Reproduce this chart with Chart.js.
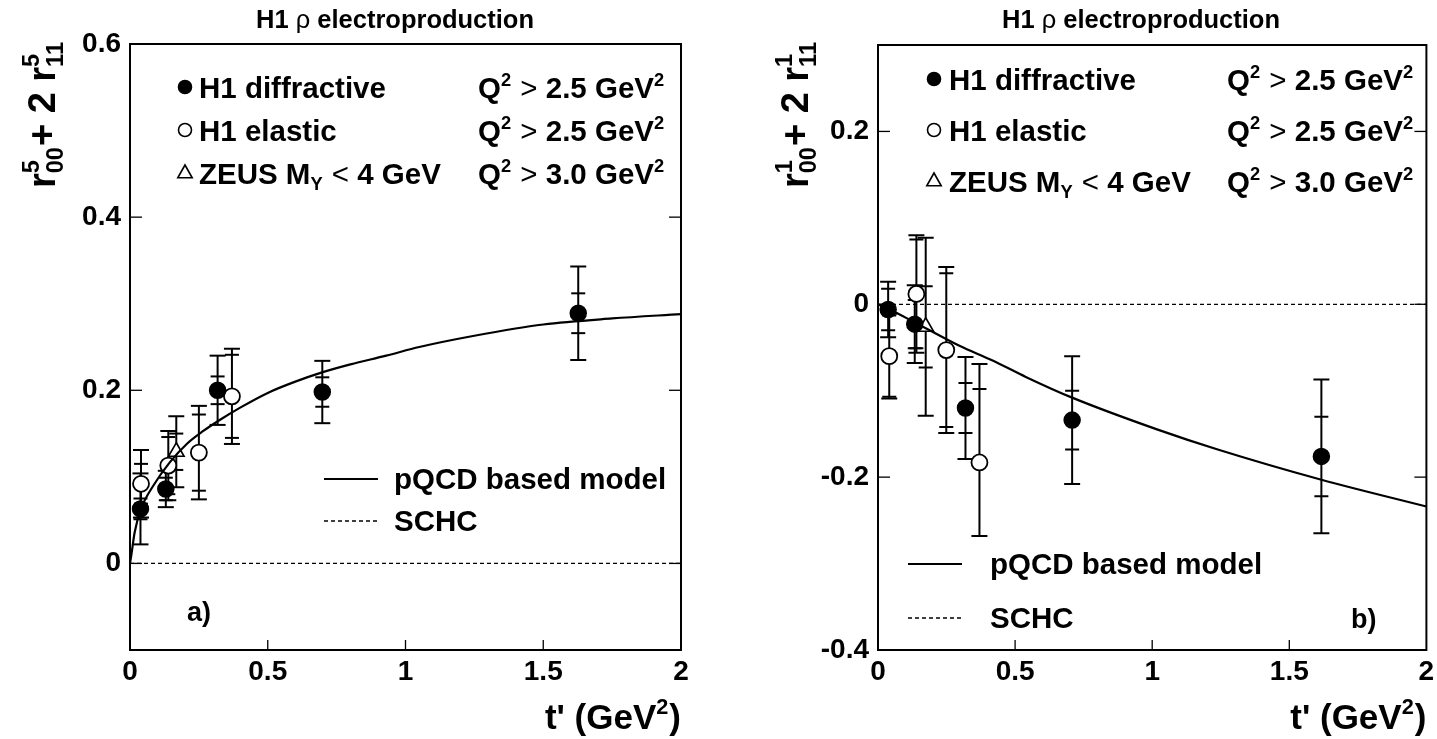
<!DOCTYPE html>
<html><head><meta charset="utf-8">
<script src="https://cdn.jsdelivr.net/npm/chart.js@4/dist/chart.umd.min.js"></script>
<style>
html,body{margin:0;padding:0;background:#fff;}
.wrap{position:absolute;top:0;}
canvas{display:block;}
</style>
</head><body>
<div class="wrap" style="left:0px;width:718px;height:739px"><canvas id="c1" width="718" height="739"></canvas></div>
<div class="wrap" style="left:718px;width:719px;height:739px"><canvas id="c2" width="719" height="739"></canvas></div>
<script>
// ---------------- data ----------------
const xTickVals = [0, 0.5, 1, 1.5, 2];
const yTickValsA = [0, 0.2, 0.4, 0.6];
const yTickValsB = [-0.4, -0.2, 0, 0.2];

// panel a) r^5_00 + 2 r^5_11
const aDiffT = [0.038, 0.130, 0.318, 0.698, 1.627];
const aDiffV = [0.063, 0.086, 0.200, 0.198, 0.289];
const aDiffStat = [0.012, 0.013, 0.016, 0.017, 0.023];
const aDiffTot = [0.041, 0.021, 0.040, 0.036, 0.054];

const aElT = [0.040, 0.139, 0.250, 0.370];
const aElV = [0.092, 0.113, 0.128, 0.193];
const aElStat = [0.023, 0.033, 0.044, 0.048];
const aElTot = [0.039, 0.040, 0.054, 0.055];

const aZeusT = [0.168];
const aZeusV = [0.129];
const aZeusStat = [0.021];
const aZeusTot = [0.041];

const aModelT = [0, 0.005, 0.017, 0.04, 0.085, 0.145, 0.206, 0.266, 0.327, 0.4, 0.5, 0.6, 0.7, 0.8, 0.93, 1.05, 1.25, 1.5, 1.75, 2.0];
const aModelV = [0, 0.010, 0.036, 0.063, 0.090, 0.117, 0.138, 0.153, 0.166, 0.180, 0.197, 0.210, 0.221, 0.230, 0.240, 0.250, 0.263, 0.276, 0.283, 0.288];

// panel b) r^1_00 + 2 r^1_11
const bDiffT = [0.037, 0.134, 0.319, 0.708, 1.617];
const bDiffV = [-0.006, -0.023, -0.120, -0.134, -0.176];
const bDiffStat = [0.024, 0.028, 0.029, 0.034, 0.046];
const bDiffTot = [0.032, 0.045, 0.059, 0.074, 0.089];

const bElT = [0.041, 0.140, 0.249, 0.370];
const bElV = [-0.060, 0.012, -0.053, -0.183];
const bElStat = [0.047, 0.063, 0.089, 0.085];
const bElTot = [0.049, 0.068, 0.096, [0.085, 0.114]];

const bZeusT = [0.174];
const bZeusV = [-0.026];
const bZeusStat = [0.047];
const bZeusTot = [0.103];

const bModelT = [0, 0.043, 0.134, 0.176, 0.297, 0.418, 0.539, 0.708, 1.02, 1.239, 1.617, 2.0];
const bModelV = [0, -0.006, -0.021, -0.028, -0.048, -0.065, -0.084, -0.108, -0.145, -0.168, -0.203, -0.234];

const schcT = [0, 2];
const schcV = [0, 0];

// ---------------- helpers ----------------
const FAM = '"Liberation Sans", Arial, Helvetica, sans-serif';
const pts = (t, v) => t.map((x, i) => ({x, y: v[i]}));

function fontStr(size, weight) { return `${weight} ${size}px ${FAM}`; }
function segWidth(ctx, seg, size) {
  if (typeof seg === 'string') { ctx.font = fontStr(size, 'bold'); return ctx.measureText(seg).width; }
  if (seg.light) { ctx.font = fontStr(size, 'normal'); return ctx.measureText(seg.light).width; }
  const s = size * 0.62; ctx.font = fontStr(s, 'bold');
  let w = 0;
  if (seg.sup) w = Math.max(w, ctx.measureText(seg.sup).width);
  if (seg.sub) w = Math.max(w, ctx.measureText(seg.sub).width);
  return w + 1;
}
function drawRich(ctx, x, y, parts, size, align) {
  let W = 0; parts.forEach(p => W += segWidth(ctx, p, size));
  let cx = align === 'right' ? x - W : align === 'center' ? x - W / 2 : x;
  ctx.fillStyle = '#000'; ctx.textBaseline = 'alphabetic'; ctx.textAlign = 'left';
  parts.forEach(p => {
    const w = segWidth(ctx, p, size);
    if (typeof p === 'string') { ctx.font = fontStr(size, 'bold'); ctx.fillText(p, cx, y); }
    else if (p.light) { ctx.font = fontStr(size, 'normal'); ctx.fillText(p.light, cx, y); }
    else {
      ctx.font = fontStr(size * 0.62, 'bold');
      if (p.sup) ctx.fillText(p.sup, cx, y - size * 0.42);
      if (p.sub) ctx.fillText(p.sub, cx, y + size * 0.22);
    }
    cx += w;
  });
}
function marker(ctx, kind, x, y, r) {
  ctx.save(); ctx.lineWidth = 1.6; ctx.strokeStyle = '#000';
  ctx.beginPath();
  if (kind === 'tri') {
    ctx.moveTo(x, y - r); ctx.lineTo(x + r * 0.9, y + r * 0.6); ctx.lineTo(x - r * 0.9, y + r * 0.6); ctx.closePath();
    ctx.fillStyle = '#fff'; ctx.fill(); ctx.stroke();
  } else {
    ctx.arc(x, y, r, 0, Math.PI * 2);
    ctx.fillStyle = kind === 'full' ? '#000' : '#fff'; ctx.fill(); ctx.stroke();
  }
  ctx.restore();
}

const decor = {
  id: 'decor',
  beforeDatasetsDraw(chart) {
    const {ctx, chartArea: ca, scales: {x, y}} = chart;
    ctx.save();
    ctx.beginPath(); ctx.rect(ca.left, ca.top, ca.width, ca.height); ctx.clip();
    ctx.strokeStyle = '#000'; ctx.lineWidth = 2;
    chart.data.datasets.forEach(ds => {
      if (!ds.errStat) return;
      ds.data.forEach((p, i) => {
        const px = x.getPixelForValue(p.x);
        const st = ds.errStat[i], tt = ds.errTot[i];
        const [sd, su] = Array.isArray(st) ? st : [st, st];
        const [td, tu] = Array.isArray(tt) ? tt : [tt, tt];
        const yT = y.getPixelForValue(p.y + tu), yB = y.getPixelForValue(p.y - td);
        ctx.beginPath(); ctx.moveTo(px, yT); ctx.lineTo(px, yB); ctx.stroke();
        [[p.y + tu, 8], [p.y - td, 8], [p.y + su, 7], [p.y - sd, 7]].forEach(([v, h]) => {
          const py = y.getPixelForValue(v);
          ctx.beginPath(); ctx.moveTo(px - h, py); ctx.lineTo(px + h, py); ctx.stroke();
        });
      });
    });
    ctx.restore();
  },
  afterDraw(chart, args, o) {
    const {ctx, chartArea: ca, scales: {x, y}} = chart;
    ctx.save();
    // frame
    ctx.strokeStyle = '#000'; ctx.lineWidth = 2;
    ctx.strokeRect(ca.left, ca.top, ca.width, ca.height);
    ctx.lineWidth = 1.3;
    x.ticks.forEach(t => {
      const px = x.getPixelForValue(t.value);
      if (px <= ca.left + 1 || px >= ca.right - 1) return;
      ctx.beginPath(); ctx.moveTo(px, ca.bottom); ctx.lineTo(px, ca.bottom - 10); ctx.stroke();
    });
    y.ticks.forEach(t => {
      const py = y.getPixelForValue(t.value);
      if (py <= ca.top + 1 || py >= ca.bottom - 1) return;
      ctx.beginPath(); ctx.moveTo(ca.left, py); ctx.lineTo(ca.left + 12, py); ctx.stroke();
      ctx.beginPath(); ctx.moveTo(ca.right, py); ctx.lineTo(ca.right - 12, py); ctx.stroke();
    });
    // title
    drawRich(ctx, o.titleX, 28, ['H1 ', {light: 'ρ'}, ' electroproduction'], 25.5, 'center');
    // y title (rotated)
    ctx.save();
    ctx.translate(o.yTitleX, 41); ctx.rotate(-Math.PI / 2);
    drawRich(ctx, 0, 0, ['r', {sup: o.idx, sub: '00'}, '+ 2 r', {sup: o.idx, sub: '11'}], 38, 'right');
    ctx.restore();
    // x title
    drawRich(ctx, ca.right, 729, ["t' (GeV", {sup: '2'}, ')'], 35, 'right');
    // legend rows
    const L = o.leg;
    const rows = [
      ['full', ['H1 diffractive'], ['Q', {sup: '2'}, ' ', {light: '>'}, ' 2.5 GeV', {sup: '2'}]],
      ['open', ['H1 elastic'], ['Q', {sup: '2'}, ' ', {light: '>'}, ' 2.5 GeV', {sup: '2'}]],
      ['tri', ['ZEUS M', {sub: 'Y'}, ' ', {light: '<'}, ' 4 GeV'], ['Q', {sup: '2'}, ' ', {light: '>'}, ' 3.0 GeV', {sup: '2'}]]
    ];
    rows.forEach((r, i) => {
      const yy = L.rows[i];
      marker(ctx, r[0], L.mx, yy - 1, r[0] === 'tri' ? 8 : 6.5);
      drawRich(ctx, L.tx, yy + 10, r[1], 29.5, 'left');
      drawRich(ctx, L.qx, yy + 10, r[2], 29.5, 'left');
    });
    // model legend
    const M = o.mod;
    ctx.strokeStyle = '#000';
    ctx.lineWidth = 1.8; ctx.setLineDash([]);
    ctx.beginPath(); ctx.moveTo(M.x0, M.y1); ctx.lineTo(M.x1, M.y1); ctx.stroke();
    ctx.lineWidth = 1.3; ctx.setLineDash([4, 3]);
    ctx.beginPath(); ctx.moveTo(M.x0, M.y2); ctx.lineTo(M.x1, M.y2); ctx.stroke();
    ctx.setLineDash([]);
    drawRich(ctx, M.tx, M.y1 + 10, ['pQCD based model'], 29.5, 'left');
    drawRich(ctx, M.tx, M.y2 + 10, ['SCHC'], 29.5, 'left');
    drawRich(ctx, o.tag.x, o.tag.y + 10, [o.tag.t], 27, 'left');
    ctx.restore();
  }
};

function makePanel(id, P) {
  const datasets = [
    {type: 'line', data: pts(P.modelT, P.modelV), borderColor: '#000', borderWidth: 2.2, pointRadius: 0,
     cubicInterpolationMode: 'monotone', fill: false, order: 0},
    {type: 'line', data: pts(schcT, schcV), borderColor: '#000', borderWidth: 1.3, borderDash: [4, 3], pointRadius: 0, fill: false, order: 5},
    {type: 'scatter', data: pts(P.diffT, P.diffV), errStat: P.diffStat, errTot: P.diffTot, pointStyle: 'circle', pointRadius: 8,
     backgroundColor: '#000', borderColor: '#000', borderWidth: 1.5, order: 2},
    {type: 'scatter', data: pts(P.elT, P.elV), errStat: P.elStat, errTot: P.elTot, pointStyle: 'circle', pointRadius: 8,
     backgroundColor: '#fff', borderColor: '#000', borderWidth: 1.8, order: 3},
    {type: 'scatter', data: pts(P.zT, P.zV), errStat: P.zStat, errTot: P.zTot, pointStyle: 'triangle', pointRadius: 9,
     backgroundColor: '#fff', borderColor: '#000', borderWidth: 1.6, order: 4}
  ];
  const tickFont = {family: FAM, size: 28, weight: 'bold'};
  new Chart(document.getElementById(id), {
    type: 'scatter',
    data: {datasets},
    options: {
      responsive: false, animation: false, devicePixelRatio: 1,
      layout: {padding: P.pad},
      plugins: {legend: {display: false}, tooltip: {enabled: false}, decor: P.decor},
      scales: {
        x: {type: 'linear', min: 0, max: 2,
            afterBuildTicks: s => { s.ticks = xTickVals.map(v => ({value: v})); },
            afterFit: s => { s.height = 89; s.paddingLeft = 0; s.paddingRight = 0; },
            ticks: {font: tickFont, color: '#000', padding: 5, maxRotation: 0, autoSkip: false, callback: v => String(v)},
            grid: {display: false, drawTicks: false}, border: {display: false}},
        y: {type: 'linear', min: P.ymin, max: P.ymax,
            afterBuildTicks: s => { s.ticks = P.yTicks.map(v => ({value: v})); },
            afterFit: s => { s.width = P.yw; s.paddingTop = 0; s.paddingBottom = 0; },
            ticks: {font: tickFont, color: '#000', padding: 9, autoSkip: false, callback: v => String(v)},
            grid: {display: false, drawTicks: false}, border: {display: false}}
      }
    },
    plugins: [decor]
  });
}

makePanel('c1', {
  modelT: aModelT, modelV: aModelV,
  diffT: aDiffT, diffV: aDiffV, diffStat: aDiffStat, diffTot: aDiffTot,
  elT: aElT, elV: aElV, elStat: aElStat, elTot: aElTot,
  zT: aZeusT, zV: aZeusV, zStat: aZeusStat, zTot: aZeusTot,
  ymin: -0.1, ymax: 0.6, yTicks: yTickValsA, yw: 130,
  pad: {left: 0, top: 44, right: 37, bottom: 0},
  decor: {titleX: 395, yTitleX: 55, idx: '5',
          leg: {mx: 185, tx: 199, qx: 478, rows: [88, 131, 174]},
          mod: {x0: 324, x1: 378, tx: 394, y1: 479, y2: 521},
          tag: {t: 'a)', x: 187, y: 611}}
});
makePanel('c2', {
  modelT: bModelT, modelV: bModelV,
  diffT: bDiffT, diffV: bDiffV, diffStat: bDiffStat, diffTot: bDiffTot,
  elT: bElT, elV: bElV, elStat: bElStat, elTot: bElTot,
  zT: bZeusT, zV: bZeusV, zStat: bZeusStat, zTot: bZeusTot,
  ymin: -0.4, ymax: 0.3, yTicks: yTickValsB, yw: 160,
  pad: {left: 0, top: 45, right: 7, bottom: 0},
  decor: {titleX: 1141 - 718, yTitleX: 808 - 718, idx: '1',
          leg: {mx: 934 - 718, tx: 949 - 718, qx: 1227 - 718, rows: [80, 131, 182]},
          mod: {x0: 908 - 718, x1: 962 - 718, tx: 990 - 718, y1: 564, y2: 618},
          tag: {t: 'b)', x: 1351 - 718, y: 618}}
});
</script>
</body></html>
